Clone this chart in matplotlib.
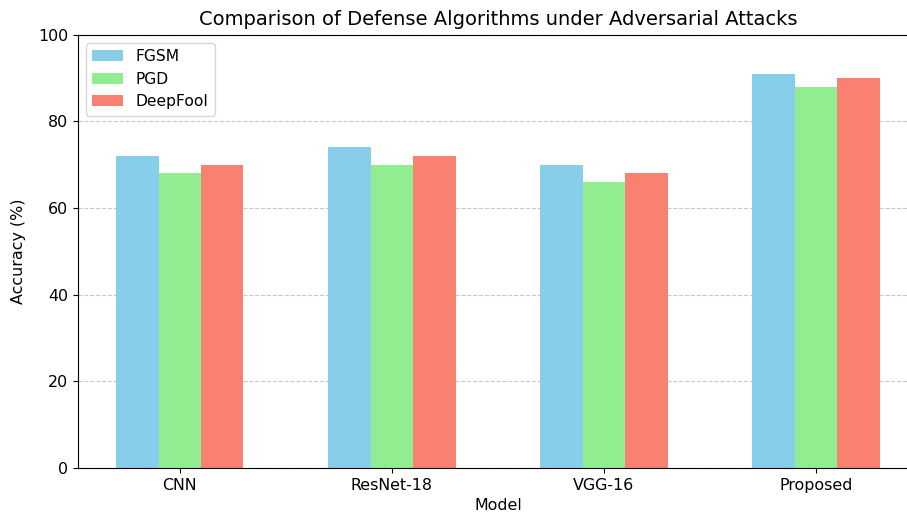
import matplotlib
matplotlib.use("Agg")
import matplotlib.pyplot as plt
import numpy as np

models = ["CNN", "ResNet-18", "VGG-16", "Proposed"]
fgsm = [72, 74, 70, 91]
pgd = [68, 70, 66, 88]
deepfool = [70, 72, 68, 90]

fs = 11.4
fig = plt.figure(figsize=(9.07, 5.12), dpi=100)
ax = fig.add_axes([0.086, 0.086, 0.926, 0.846])
x = np.arange(len(models))
w = 0.2
ax.bar(x - w, fgsm, w, label="FGSM", color="skyblue")
ax.bar(x, pgd, w, label="PGD", color="lightgreen")
ax.bar(x + w, deepfool, w, label="DeepFool", color="salmon")
ax.set_xticks(x)
ax.set_xticklabels(models)
ax.set_ylim(0, 100)
ax.tick_params(labelsize=fs)
ax.set_xlabel("Model", fontsize=fs)
ax.set_ylabel("Accuracy (%)", fontsize=fs, labelpad=9)
ax.set_title("Comparison of Defense Algorithms under Adversarial Attacks", fontsize=14, pad=7)
ax.legend(loc="upper left", fontsize=11.2)
ax.yaxis.grid(True, linestyle="--", alpha=0.7)
ax.set_axisbelow(True)
fig.savefig("out.png", dpi=100)
